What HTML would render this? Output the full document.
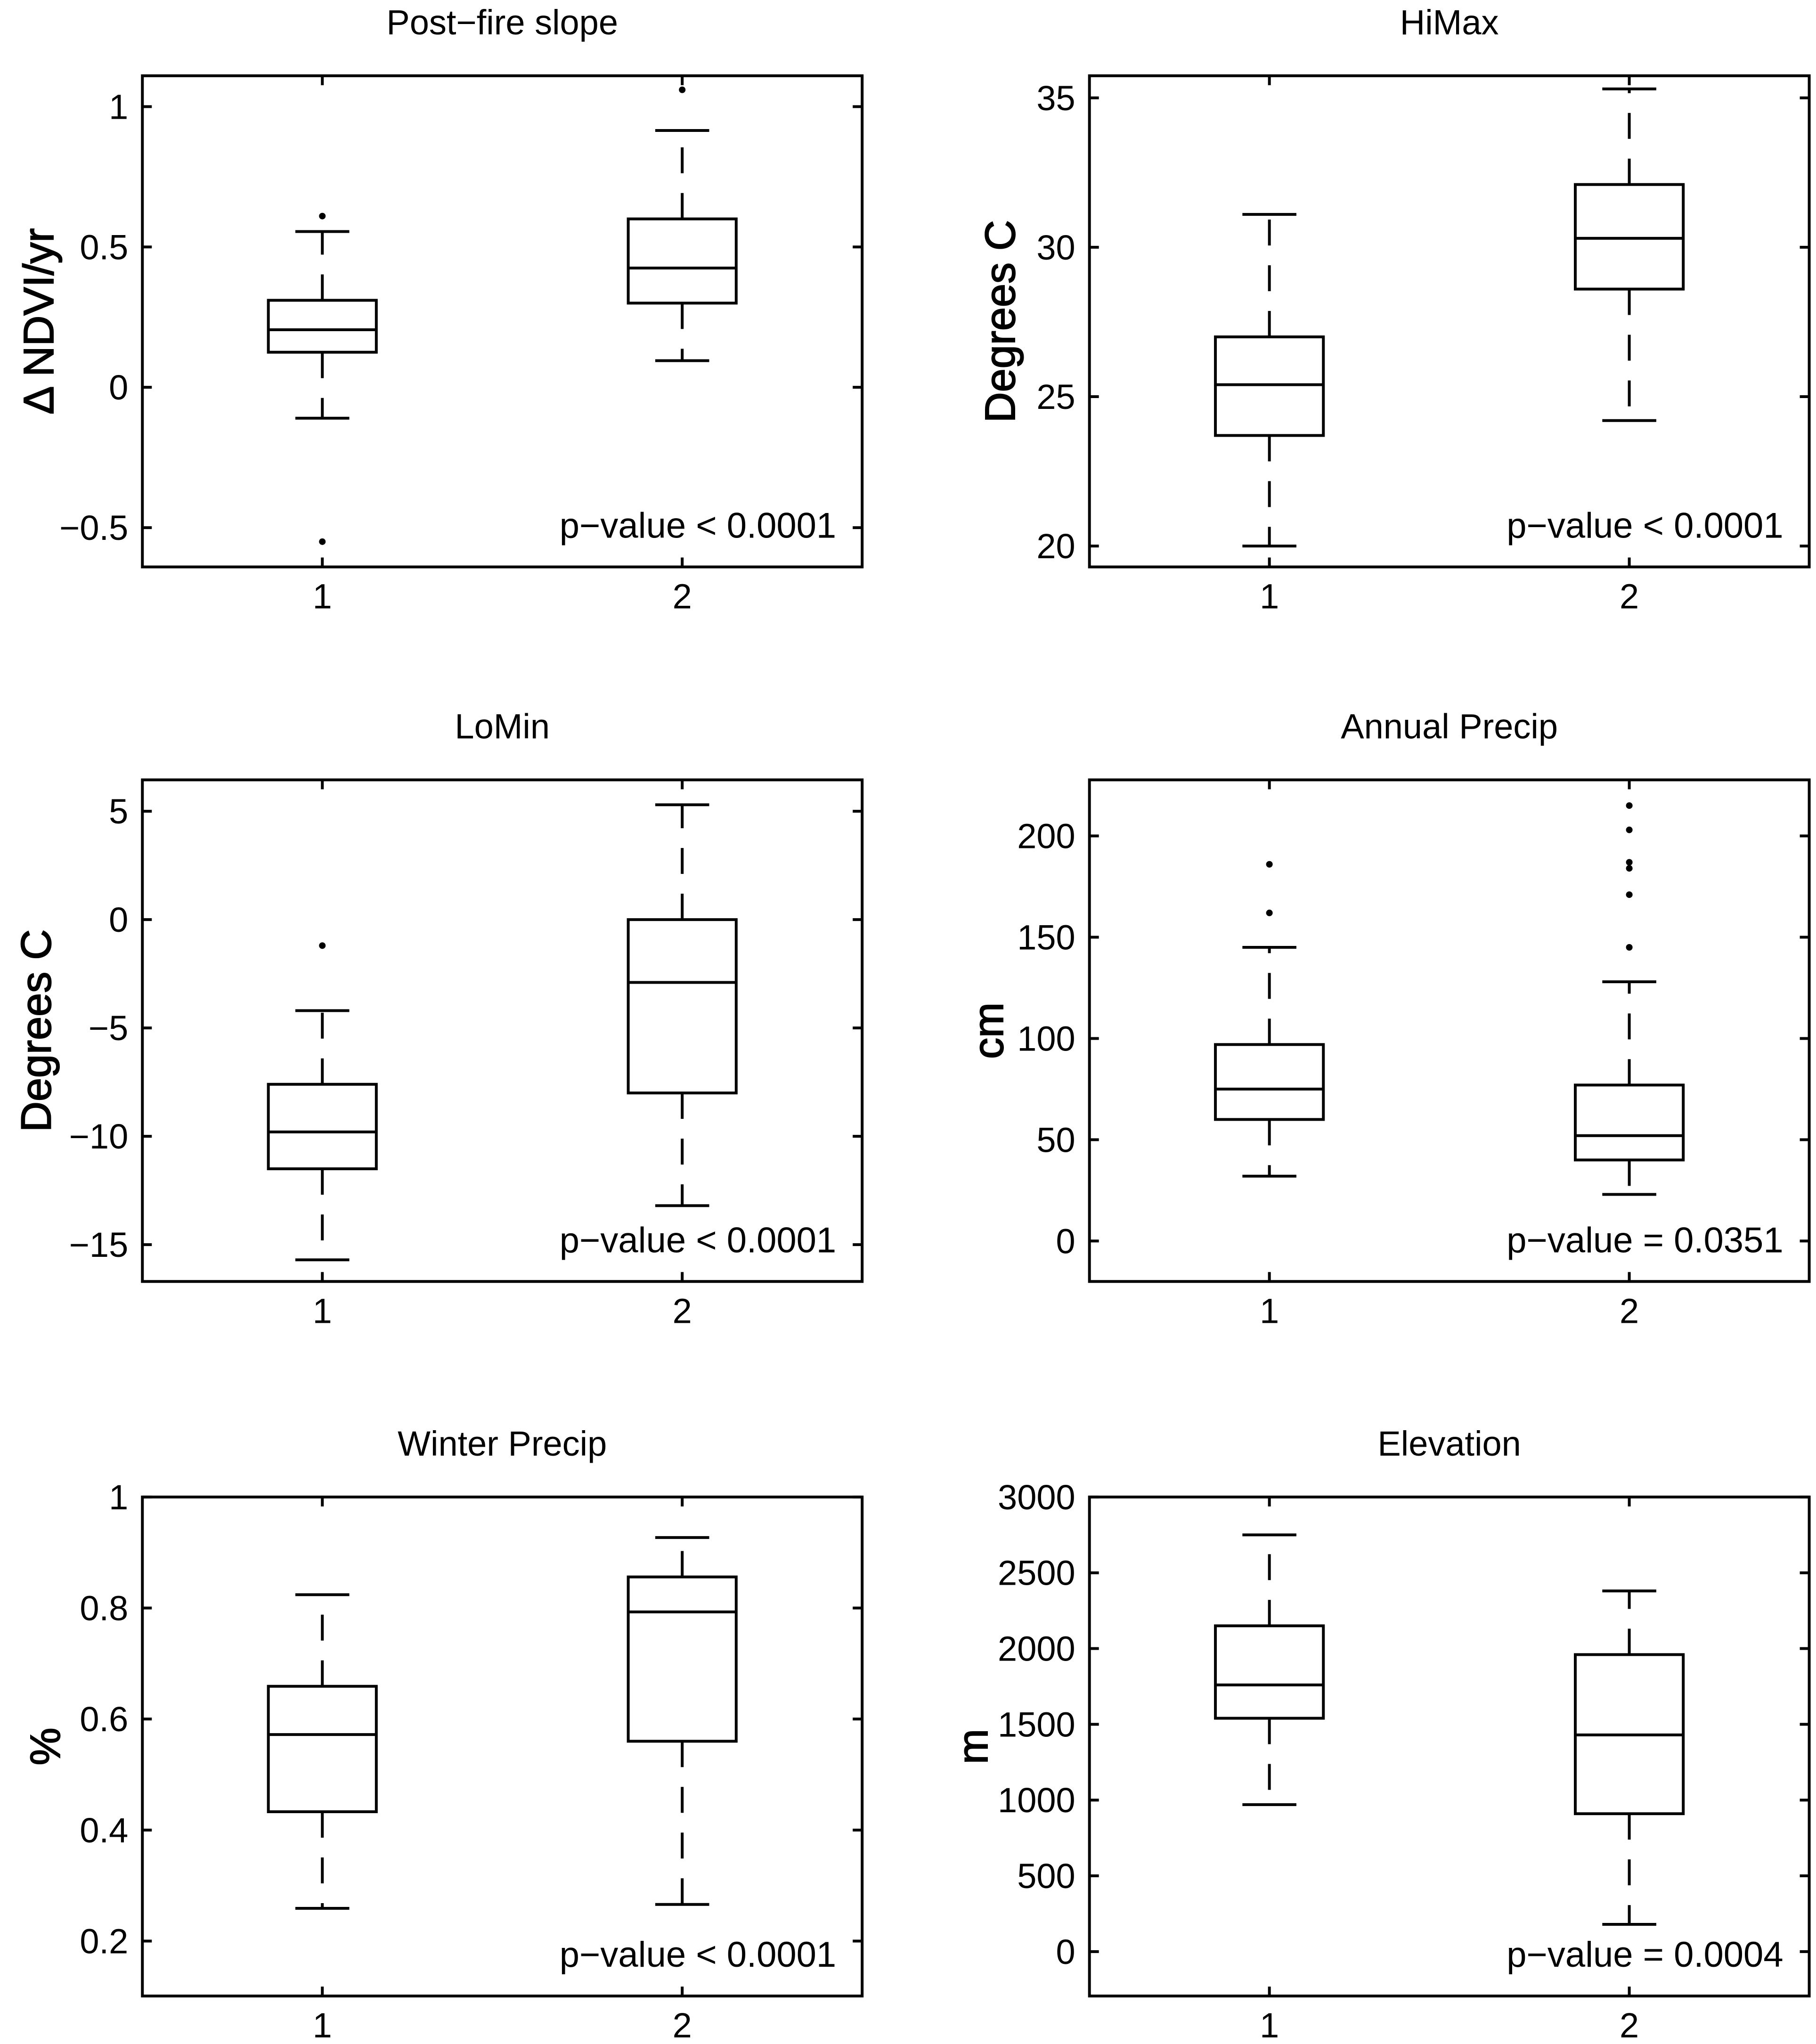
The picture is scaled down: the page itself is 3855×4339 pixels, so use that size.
<!DOCTYPE html>
<html><head><meta charset="utf-8">
<style>
html,body{margin:0;padding:0;background:#fff;}
svg{display:block;}
text{font-family:"Liberation Sans",sans-serif;fill:#000;}
</style></head>
<body>
<svg id="fig" width="3855" height="4339" viewBox="0 0 3855 4339" xmlns="http://www.w3.org/2000/svg"></svg>
<script>
// ---- data ----
const titles = ["Post\u2212fire slope","HiMax","LoMin","Annual Precip","Winter Precip","Elevation"];
const yLabels = ["\u0394 NDVI/yr","Degrees C","Degrees C","cm","%","m"];
const pValues = ["p\u2212value < 0.0001","p\u2212value < 0.0001","p\u2212value < 0.0001","p\u2212value = 0.0351","p\u2212value < 0.0001","p\u2212value = 0.0004"];
const categories = ["1","2"];
// [lowWhisker, q1, median, q3, highWhisker] per group
const slopeStats  = [[-0.11,0.125,0.205,0.31,0.555],[0.095,0.30,0.425,0.60,0.915]];
const himaxStats  = [[20.0,23.7,25.4,27.0,31.1],[24.2,28.6,30.3,32.1,35.3]];
const lominStats  = [[-15.7,-11.5,-9.8,-7.6,-4.2],[-13.2,-8.0,-2.9,0,5.3]];
const precipStats = [[32,60,75,97,145],[23,40,52,77,128]];
const winterStats = [[0.259,0.433,0.572,0.659,0.824],[0.266,0.56,0.793,0.856,0.927]];
const elevStats   = [[970,1540,1760,2150,2750],[180,910,1430,1960,2380]];
const slopeOut  = [[0.61,-0.55],[1.06]];
const himaxOut  = [[],[]];
const lominOut  = [[-1.2],[]];
const precipOut = [[162,186],[145,171,184,187,203,215]];
const winterOut = [[],[]];
const elevOut   = [[],[]];
const slopeTicks  = [-0.5,0,0.5,1];
const himaxTicks  = [20,25,30,35];
const lominTicks  = [-15,-10,-5,0,5];
const precipTicks = [0,50,100,150,200];
const winterTicks = [0.2,0.4,0.6,0.8,1];
const elevTicks   = [0,500,1000,1500,2000,2500,3000];
const tickText = {
  0:["\u22120.5","0","0.5","1"],1:["20","25","30","35"],2:["\u221215","\u221210","\u22125","0","5"],
  3:["0","50","100","150","200"],4:["0.2","0.4","0.6","0.8","1"],5:["0","500","1000","1500","2000","2500","3000"]};

// ---- layout (preview px, scaled by S) ----
const S = 2.773;
const panels = [
 {x0:109,x1:660,y0:58,y1:434,ymin:-0.64,ymax:1.11,stats:slopeStats,out:slopeOut,ticks:slopeTicks,lx:30},
 {x0:834,x1:1385,y0:58,y1:434,ymin:19.3,ymax:35.74,stats:himaxStats,out:himaxOut,ticks:himaxTicks,lx:766},
 {x0:109,x1:660,y0:597,y1:981,ymin:-16.7,ymax:6.45,stats:lominStats,out:lominOut,ticks:lominTicks,lx:28},
 {x0:834,x1:1385,y0:597,y1:981,ymin:-20,ymax:227.7,stats:precipStats,out:precipOut,ticks:precipTicks,lx:757},
 {x0:109,x1:660,y0:1146,y1:1528,ymin:0.101,ymax:1.0,stats:winterStats,out:winterOut,ticks:winterTicks,lx:35},
 {x0:834,x1:1385,y0:1146,y1:1528,ymin:-293,ymax:3000,stats:elevStats,out:elevOut,ticks:elevTicks,lx:745}
];
const svg = document.getElementById('fig');
const NS = "http://www.w3.org/2000/svg";
const SW = 6;
function mk(tag, attrs, parent){
  const e = document.createElementNS(NS, tag);
  for (const k in attrs) e.setAttribute(k, attrs[k]);
  (parent||svg).appendChild(e);
  return e;
}
panels.forEach((p, i) => {
  const X0=p.x0*S, X1=p.x1*S, Y0=p.y0*S, Y1=p.y1*S;
  const xs = v => X0 + (v-0.5)/2*(X1-X0);
  const ys = v => Y1 - (v-p.ymin)/(p.ymax-p.ymin)*(Y1-Y0);
  const g = mk('g', {});
  
  
  const frame = mk('rect', {x:X0,y:Y0,width:X1-X0,height:Y1-Y0,fill:'none',stroke:'#000','stroke-width':SW}, g);
  
  
  const t = mk('text', {x:(X0+X1)/2,y:Y0-88,'text-anchor':'middle','font-size':74}, g);
  t.textContent = titles[i];
  
  
  const yl = mk('text', {x:0,y:0,'text-anchor':'middle','font-size':90,stroke:'#000','stroke-width':2,transform:`translate(${p.lx*S+30},${(Y0+Y1)/2}) rotate(-90)`}, g);
  yl.textContent = yLabels[i];
  
  
  const TL = 20;
  p.ticks.forEach((v, j) => {
    const y = ys(v);
    mk('line', {x1:X0,y1:y,x2:X0+TL,y2:y,stroke:'#000','stroke-width':SW}, g);
    mk('line', {x1:X1,y1:y,x2:X1-TL,y2:y,stroke:'#000','stroke-width':SW}, g);
    const tl = mk('text', {x:X0-30,y:y+26,'text-anchor':'end','font-size':74}, g);
    tl.textContent = tickText[i][j];
    
    
  });
  categories.forEach((c, k) => {
    const x = xs(k+1);
    mk('line', {x1:x,y1:Y1,x2:x,y2:Y1-TL,stroke:'#000','stroke-width':SW}, g);
    mk('line', {x1:x,y1:Y0,x2:x,y2:Y0+TL,stroke:'#000','stroke-width':SW}, g);
    const xl = mk('text', {x:x,y:Y1+88,'text-anchor':'middle','font-size':74}, g);
    xl.textContent = c;
    
    
    const st = p.stats[k];
    const hw = 0.15/2*(X1-X0), cw = 0.075/2*(X1-X0);
    const bg = mk('g', {}, g);
    
    
    const dash = {stroke:'#000','stroke-width':SW,'stroke-dasharray':'55,42'};
    mk('line', Object.assign({x1:x,y1:ys(st[3]),x2:x,y2:ys(st[4])}, dash), bg);
    mk('line', Object.assign({x1:x,y1:ys(st[1]),x2:x,y2:ys(st[0])}, dash), bg);
    mk('line', {x1:x-cw,y1:ys(st[4]),x2:x+cw,y2:ys(st[4]),stroke:'#000','stroke-width':SW}, bg);
    mk('line', {x1:x-cw,y1:ys(st[0]),x2:x+cw,y2:ys(st[0]),stroke:'#000','stroke-width':SW}, bg);
    const box = mk('rect', {x:x-hw,y:ys(st[3]),width:2*hw,height:ys(st[1])-ys(st[3]),fill:'none',stroke:'#000','stroke-width':SW}, bg);
    
    
    const med = mk('line', {x1:x-hw,y1:ys(st[2]),x2:x+hw,y2:ys(st[2]),stroke:'#000','stroke-width':SW}, bg);
    
    
    p.out[k].forEach(v => {
      const o = mk('circle', {cx:x,cy:ys(v),r:7,fill:'#000'}, bg);
      
      
    });
  });
  const pv = mk('text', {x:X1-55,y:Y1-62,'text-anchor':'end','font-size':76}, g);
  pv.textContent = pValues[i];
  
  
});
</script>
</body></html>
